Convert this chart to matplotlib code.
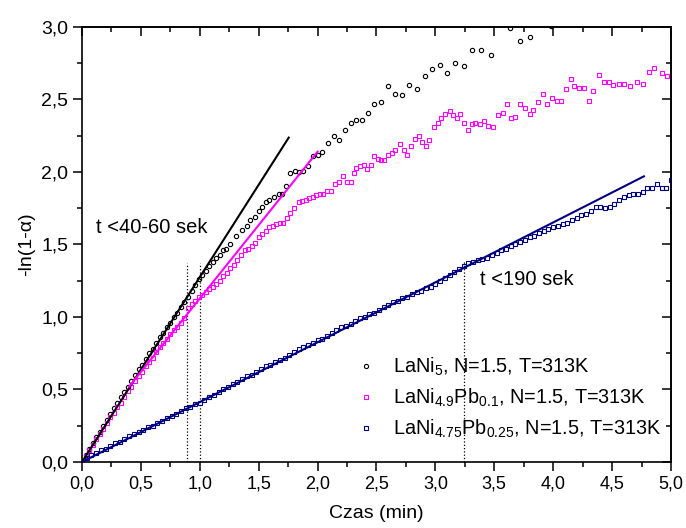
import numpy as np
import matplotlib
matplotlib.use("Agg")
import matplotlib.pyplot as plt
from matplotlib.ticker import MultipleLocator, FuncFormatter
from matplotlib.lines import Line2D

plt.rcParams["font.family"] = ["Liberation Sans", "DejaVu Sans"]
plt.rcParams["mathtext.fontset"] = "custom"
plt.rcParams["mathtext.rm"] = "Liberation Sans"
plt.rcParams["mathtext.it"] = "Liberation Sans:italic"

# ------------------------------------------------------------
# data (time in min, -ln(1-alpha))
# ------------------------------------------------------------
lani5_t = [0.00, 0.03, 0.06, 0.09, 0.12, 0.15, 0.18, 0.21, 0.24, 0.27,
           0.30, 0.33, 0.36, 0.39, 0.42, 0.45, 0.48, 0.51, 0.54, 0.57,
           0.60, 0.63, 0.66, 0.69, 0.72, 0.75, 0.78, 0.81, 0.84, 0.87,
           0.90, 0.93, 0.96, 0.99, 1.02, 1.05, 1.08, 1.11, 1.14, 1.17,
           1.20, 1.22, 1.26, 1.31, 1.36, 1.40, 1.43, 1.47, 1.50, 1.53,
           1.56, 1.59, 1.63, 1.67, 1.70, 1.73, 1.77, 1.81, 1.84, 1.88,
           1.92, 1.96, 2.00, 2.04, 2.09, 2.14, 2.18, 2.23, 2.28, 2.33,
           2.38, 2.43, 2.48, 2.54, 2.60, 2.66, 2.72, 2.78, 2.84, 2.91,
           2.97, 3.04, 3.10, 3.17, 3.24, 3.31, 3.39, 3.47, 3.63, 3.72,
           3.80, 3.98]
lani5_y = [0.00, 0.05, 0.09, 0.13, 0.17, 0.21, 0.25, 0.29, 0.33, 0.37,
           0.41, 0.45, 0.48, 0.52, 0.56, 0.60, 0.64, 0.67, 0.71, 0.75,
           0.78, 0.82, 0.86, 0.89, 0.93, 0.96, 1.00, 1.03, 1.07, 1.10,
           1.14, 1.18, 1.22, 1.26, 1.29, 1.32, 1.35, 1.38, 1.41, 1.43,
           1.46, 1.47, 1.50, 1.56, 1.60, 1.63, 1.67, 1.69, 1.73, 1.76,
           1.79, 1.81, 1.83, 1.85, 1.85, 1.90, 1.99, 2.01, 2.00, 2.01,
           2.04, 2.11, 2.12, 2.14, 2.20, 2.25, 2.22, 2.29, 2.34, 2.36,
           2.36, 2.41, 2.47, 2.48, 2.59, 2.54, 2.53, 2.60, 2.57, 2.66,
           2.71, 2.74, 2.68, 2.75, 2.73, 2.84, 2.84, 2.81, 2.99, 2.90,
           2.93, 3.005]

pb01_t = [0.00, 0.03, 0.06, 0.09, 0.12, 0.15, 0.18, 0.21, 0.24, 0.27,
          0.30, 0.33, 0.36, 0.39, 0.42, 0.45, 0.48, 0.51, 0.54, 0.57,
          0.60, 0.63, 0.66, 0.69, 0.72, 0.75, 0.78, 0.81, 0.84, 0.87,
          0.90, 0.93, 0.96, 0.99, 1.02, 1.05, 1.08, 1.11, 1.14, 1.17,
          1.20, 1.23, 1.26, 1.29, 1.32, 1.35, 1.38, 1.41, 1.44, 1.47,
          1.50, 1.53, 1.56, 1.59, 1.62, 1.65, 1.68, 1.71, 1.74, 1.77,
          1.80, 1.84, 1.87, 1.90, 1.93, 1.96, 1.99, 2.02, 2.05, 2.08,
          2.11, 2.15, 2.18, 2.22, 2.25, 2.28, 2.31, 2.33, 2.36, 2.39,
          2.42, 2.45, 2.48, 2.51, 2.54, 2.56, 2.60, 2.63, 2.66, 2.70,
          2.73, 2.76, 2.79, 2.83, 2.86, 2.89, 2.92, 2.95, 2.99, 3.02,
          3.05, 3.08, 3.12, 3.15, 3.18, 3.21, 3.24, 3.28, 3.31, 3.34,
          3.38, 3.41, 3.45, 3.49, 3.53, 3.57, 3.61, 3.64, 3.68, 3.72,
          3.76, 3.80, 3.83, 3.87, 3.91, 3.95, 3.99, 4.03, 4.07, 4.11,
          4.15, 4.18, 4.22, 4.26, 4.30, 4.34, 4.39, 4.43, 4.47, 4.51,
          4.56, 4.60, 4.65, 4.71, 4.76, 4.81, 4.86, 4.92, 4.97]
pb01_y = [0.00, 0.04, 0.08, 0.12, 0.16, 0.19, 0.23, 0.27, 0.31, 0.34,
          0.38, 0.41, 0.45, 0.49, 0.52, 0.56, 0.59, 0.62, 0.66, 0.69,
          0.72, 0.76, 0.79, 0.82, 0.85, 0.88, 0.91, 0.93, 0.96, 0.99,
          1.06, 1.09, 1.11, 1.14, 1.15, 1.17, 1.19, 1.21, 1.23, 1.25,
          1.28, 1.30, 1.34, 1.36, 1.39, 1.43, 1.46, 1.47, 1.49, 1.51,
          1.55, 1.57, 1.59, 1.62, 1.63, 1.64, 1.65, 1.65, 1.68, 1.72,
          1.75, 1.79, 1.80, 1.81, 1.82, 1.83, 1.84, 1.85, 1.85, 1.87,
          1.87, 1.92, 1.93, 1.97, 1.93, 1.93, 1.99, 2.03, 2.04, 2.05,
          2.02, 2.05, 2.11, 2.09, 2.08, 2.08, 2.12, 2.13, 2.15, 2.19,
          2.15, 2.12, 2.18, 2.23, 2.25, 2.21, 2.18, 2.22, 2.31, 2.34,
          2.37, 2.40, 2.42, 2.39, 2.37, 2.40, 2.34, 2.29, 2.33, 2.34,
          2.33, 2.35, 2.32, 2.31, 2.39, 2.41, 2.47, 2.37, 2.38, 2.47,
          2.44, 2.40, 2.43, 2.48, 2.54, 2.47, 2.51, 2.49, 2.49, 2.57,
          2.64, 2.59, 2.58, 2.58, 2.49, 2.56, 2.67, 2.62, 2.62, 2.60,
          2.61, 2.61, 2.59, 2.62, 2.61, 2.69, 2.72, 2.68, 2.66]

pb025_t = [0.00, 0.04, 0.08, 0.12, 0.16, 0.20, 0.24, 0.28, 0.32, 0.36,
           0.40, 0.44, 0.48, 0.52, 0.56, 0.60, 0.64, 0.68, 0.72, 0.76,
           0.80, 0.84, 0.88, 0.92, 0.96, 1.00, 1.04, 1.08, 1.12, 1.16,
           1.20, 1.24, 1.28, 1.32, 1.36, 1.40, 1.44, 1.48, 1.52, 1.56,
           1.60, 1.64, 1.68, 1.72, 1.76, 1.80, 1.84, 1.88, 1.92, 1.96,
           2.00, 2.04, 2.08, 2.12, 2.16, 2.20, 2.24, 2.28, 2.32, 2.36,
           2.40, 2.44, 2.48, 2.52, 2.56, 2.60, 2.64, 2.68, 2.72, 2.76,
           2.80, 2.84, 2.88, 2.92, 2.96, 3.00, 3.04, 3.08, 3.12, 3.16,
           3.20, 3.24, 3.28, 3.32, 3.36, 3.40, 3.44, 3.48, 3.52, 3.56,
           3.60, 3.64, 3.68, 3.72, 3.76, 3.80, 3.84, 3.88, 3.92, 3.96,
           4.00, 4.04, 4.08, 4.12, 4.16, 4.20, 4.24, 4.28, 4.32, 4.36,
           4.40, 4.44, 4.48, 4.52, 4.56, 4.60, 4.64, 4.68, 4.72, 4.76,
           4.80, 4.84, 4.88, 4.92, 4.96, 5.00]
pb025_y = [0.00, 0.03, 0.05, 0.06, 0.08, 0.09, 0.11, 0.13, 0.14, 0.16,
           0.18, 0.19, 0.21, 0.22, 0.24, 0.25, 0.27, 0.28, 0.30, 0.32,
           0.33, 0.35, 0.37, 0.38, 0.40, 0.41, 0.43, 0.45, 0.46, 0.48,
           0.50, 0.52, 0.54, 0.55, 0.57, 0.59, 0.60, 0.62, 0.64, 0.66,
           0.67, 0.69, 0.70, 0.72, 0.74, 0.76, 0.78, 0.79, 0.81, 0.82,
           0.84, 0.85, 0.87, 0.89, 0.91, 0.93, 0.94, 0.95, 0.97, 0.99,
           1.00, 1.02, 1.03, 1.05, 1.07, 1.08, 1.10, 1.11, 1.13, 1.14,
           1.16, 1.17, 1.18, 1.20, 1.21, 1.23, 1.25, 1.27, 1.29, 1.31,
           1.33, 1.35, 1.37, 1.38, 1.39, 1.40, 1.41, 1.43, 1.44, 1.46,
           1.47, 1.49, 1.50, 1.52, 1.53, 1.55, 1.56, 1.58, 1.59, 1.61,
           1.62, 1.63, 1.64, 1.65, 1.67, 1.68, 1.70, 1.71, 1.73, 1.76,
           1.76, 1.75, 1.76, 1.78, 1.81, 1.83, 1.84, 1.85, 1.85, 1.86,
           1.89, 1.89, 1.92, 1.89, 1.89, 1.945]

# linear fits (start / end points of each drawn line)
fit_lani5 = ([0.0, 1.755], [0.0, 2.237])
fit_pb01 = ([0.40, 2.0], [0.52, 2.14])
fit_pb025 = ([0.0, 4.77], [0.0, 1.97])

# dotted markers of fit range
vlines_t = [0.89, 1.0, 3.245]
vlines_top = [1.37, 1.37, 1.38]

labels = [r"LaNi$_{5}$, N=1.5, T=313K",
          r"LaNi$_{4.9}$Pb$_{0.1}$, N=1.5, T=313K",
          r"LaNi$_{4.75}$Pb$_{0.25}$, N=1.5, T=313K"]
colors = ["black", "#ff00ff", "#000080"]

# ------------------------------------------------------------
# figure
# ------------------------------------------------------------
fig = plt.figure(figsize=(6.86, 5.28), dpi=100)
ax = fig.add_axes([0.1195, 0.125, 0.8586, 0.8239])

ms = 3.1
ax.plot(lani5_t, lani5_y, "o", ms=ms, mfc="none", mec=colors[0], mew=0.8, zorder=3)
ax.plot(pb01_t, pb01_y, "s", ms=ms, mfc="none", mec=colors[1], mew=0.8, zorder=3)
ax.plot(pb025_t, pb025_y, "s", ms=ms, mfc="none", mec=colors[2], mew=0.8, zorder=3)

ax.plot(*fit_lani5, "-", color=colors[0], lw=1.5, zorder=4)
ax.plot(*fit_pb01, "-", color=colors[1], lw=1.5, zorder=4)
ax.plot(*fit_pb025, "-", color=colors[2], lw=1.5, zorder=4)

for t, top in zip(vlines_t, vlines_top):
    ax.plot([t, t], [0, top], ":", color="black", lw=0.9, zorder=2)

ax.text(0.12, 1.62, "t <40-60 sek", fontsize=14.5, va="center", ha="left")
ax.text(3.38, 1.26, "t <190 sek", fontsize=14.5, va="center", ha="left")

ax.set_xlim(0, 5)
ax.set_ylim(0, 3)

fmt = FuncFormatter(lambda v, p: f"{v:.1f}".replace(".", ","))
ax.xaxis.set_major_locator(MultipleLocator(0.5))
ax.xaxis.set_minor_locator(MultipleLocator(0.25))
ax.yaxis.set_major_locator(MultipleLocator(0.5))
ax.yaxis.set_minor_locator(MultipleLocator(0.25))
ax.xaxis.set_major_formatter(fmt)
ax.yaxis.set_major_formatter(fmt)
ax.tick_params(which="major", direction="out", length=6.5, width=1.1, labelsize=13)
ax.tick_params(axis="y", which="major", labelsize=14)
ax.tick_params(which="minor", direction="out", length=3.5, width=1.1)
for s in ax.spines.values():
    s.set_linewidth(1.2)

# mirrored ticks pointing inward on top / right
top = ax.secondary_xaxis("top")
top.xaxis.set_major_locator(MultipleLocator(0.5))
top.xaxis.set_minor_locator(MultipleLocator(0.25))
top.tick_params(which="major", direction="in", length=6.5, width=1.1, labeltop=False)
top.tick_params(which="minor", direction="in", length=3.5, width=1.1)
right = ax.secondary_yaxis("right")
right.yaxis.set_major_locator(MultipleLocator(0.5))
right.yaxis.set_minor_locator(MultipleLocator(0.25))
right.tick_params(which="major", direction="in", length=6.5, width=1.1, labelright=False)
right.tick_params(which="minor", direction="in", length=3.5, width=1.1)
top.spines["top"].set_linewidth(1.2)
right.spines["right"].set_linewidth(1.2)

ax.set_xlabel("Czas (min)", fontsize=14, labelpad=9)
ax.set_ylabel("-ln(1-α)", fontsize=14, labelpad=4)

handles = [Line2D([], [], ls="none", marker="o", ms=3.0, mfc="none", mec=colors[0], mew=0.8),
           Line2D([], [], ls="none", marker="s", ms=3.0, mfc="none", mec=colors[1], mew=0.8),
           Line2D([], [], ls="none", marker="s", ms=3.0, mfc="none", mec=colors[2], mew=0.8)]
ax.legend(handles, labels, loc="center left", bbox_to_anchor=(0.462, 0.147),
          frameon=False, fontsize=14.3, handlelength=1.2, handletextpad=0.75,
          labelspacing=0.45, borderpad=0, borderaxespad=0)

fig.savefig("out.png", dpi=100)
